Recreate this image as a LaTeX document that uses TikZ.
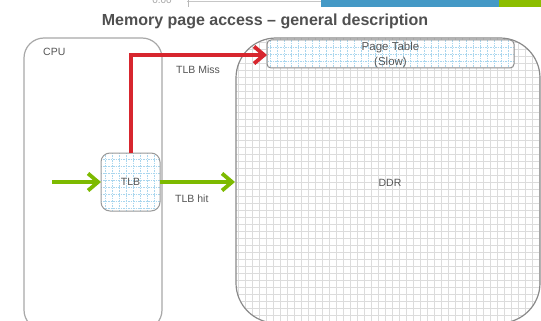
\documentclass[tikz,border=0pt]{standalone}
\usepackage{fontspec}
\setmainfont{Liberation Sans}
\usetikzlibrary{arrows.meta}
\definecolor{txtgray}{HTML}{505050}
\definecolor{lblgray}{HTML}{555555}
\definecolor{boxgray}{HTML}{A8A8A8}
\definecolor{ddrgray}{HTML}{8A8A8A}
\definecolor{gridgray}{HTML}{DCDCDC}
\definecolor{gridblue}{HTML}{A9D6EE}
\definecolor{hitgreen}{HTML}{7DBA00}
\definecolor{missred}{HTML}{D7262E}
\definecolor{barblue}{HTML}{4499C6}
\definecolor{bargreen}{HTML}{8CBE00}
\tikzset{
  lbl/.style={text=lblgray, font=\fontsize{10.5}{12}\selectfont, inner sep=0pt},
  ddrgrid/.style={draw=gridgray, line width=0.9pt},
  bluegrid/.style={draw=gridblue, line width=0.7pt, dash pattern=on 1.5pt off 1pt},
  flow/.style={line width=3.8pt, -{Straight Barb[length=10pt,width=17pt,line width=3.8pt]}},
}
\begin{document}
\begin{tikzpicture}[x=1pt,y=-1pt]
\clip (0,0) rectangle (541,321);
\useasboundingbox (0,0) rectangle (541,321);
\fill[white] (0,0) rectangle (541,321);

% strip of the slide header above
\node[anchor=base, text=gray!70, font=\fontsize{10}{12}\selectfont, inner sep=0pt] (axisnum) at (162,4) {0.00};
\draw[gray!45, line width=1.2pt] (187,1.5) -- (321,1.5);
\draw[gray!55, line width=1pt] (188,0) -- (188,7);
\fill[barblue] (321,0) rectangle (499,7.5);
\fill[bargreen] (499,0) rectangle (541,7.5);

% title
\node[text=txtgray, font=\bfseries\fontsize{16}{18}\selectfont, inner sep=0pt] (title) at (265,21.5) {Memory page access – general description};

% CPU block
\draw[boxgray, line width=1.2pt, rounded corners=20] (24,38) rectangle (162,330);
\node[lbl, anchor=west] (cpu) at (43,52) {CPU};

% DDR block with grid texture
\begin{scope}
  \clip[rounded corners=40] (236,38) rectangle (540,323);
  \foreach \gx in {238,245,...,545} \draw[ddrgrid] (\gx,35) -- (\gx,330);
  \foreach \gy in {42,49,...,330} \draw[ddrgrid] (230,\gy) -- (545,\gy);
\end{scope}
\draw[ddrgray, line width=1.2pt, rounded corners=40] (236,38) rectangle (540,323);
\node[lbl] (ddr) at (390,183) {DDR};

% page table
\fill[white, rounded corners=4] (267,40) rectangle (514,68);
\begin{scope}
  \clip[rounded corners=4] (267,40) rectangle (514,68);
  \foreach \gx in {270,277,...,520} \draw[bluegrid] (\gx,38) -- (\gx,70);
  \foreach \gy in {47,54,61} \draw[bluegrid] (265,\gy) -- (516,\gy);
\end{scope}
\draw[ddrgray, line width=1pt, rounded corners=4] (267,40) rectangle (514,68);
\node[lbl, align=center, font=\fontsize{11.5}{14.5}\selectfont] (pt) at (390.5,55) {Page Table\\(Slow)};
\coordinate (ptin) at (267,55);

% TLB
\fill[white, rounded corners=9] (101,153) rectangle (160,211);
\begin{scope}
  \clip[rounded corners=9] (101,153) rectangle (160,211);
  \foreach \gx in {105,112,...,160} \draw[bluegrid] (\gx,150) -- (\gx,215);
  \foreach \gy in {159,166,...,211} \draw[bluegrid] (98,\gy) -- (165,\gy);
\end{scope}
\draw[gray!80, line width=1pt, rounded corners=9] (101,153) rectangle (160,211);
\node[lbl] (tlb) at (130.5,182) {TLB};
\coordinate (tlbtop) at (131,153);
\coordinate (tlbleft) at (101,182);
\coordinate (tlbright) at (160,182);
\coordinate (ddrleft) at (235,182);
\coordinate (src) at (52,182);

% flows
\draw[flow, draw=missred] (tlbtop) |- (ptin);
\draw[flow, draw=hitgreen] (src) -- (tlbleft);
\draw[flow, draw=hitgreen] (tlbright) -- (ddrleft);

\node[lbl, anchor=west] (miss) at (176,70) {TLB Miss};
\node[lbl, anchor=west] (hit) at (175,199) {TLB hit};
\end{tikzpicture}
\end{document}
